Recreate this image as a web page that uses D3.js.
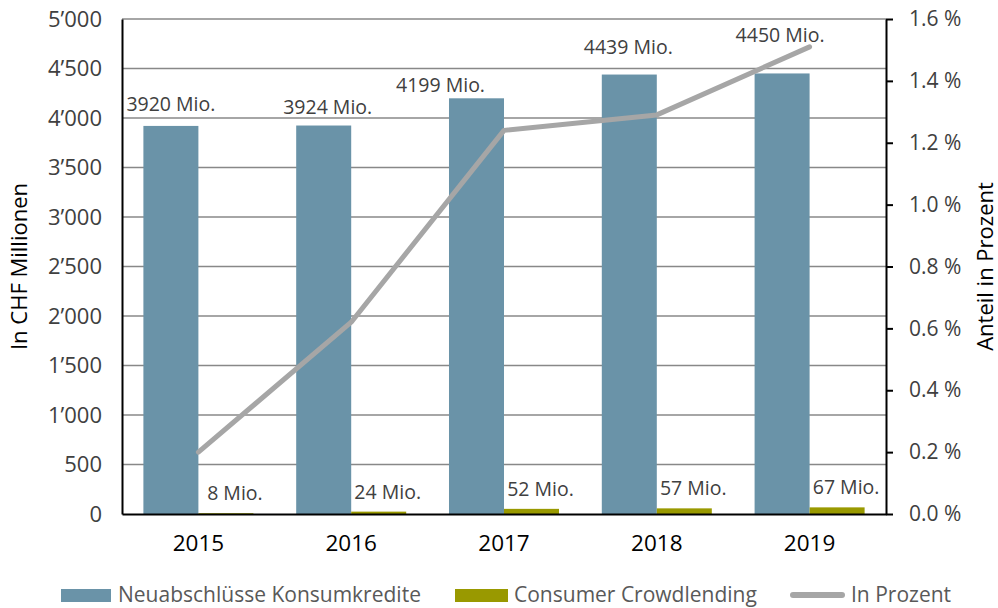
<!DOCTYPE html>
<html lang="de">
<head>
    <meta charset="UTF-8">
    <title>Konsumkredite und Crowdlending</title>
    <script src="https://d3js.org/d3.v7.min.js"></script>
    <style>
        body { margin: 0; background: #fff; }
        svg text { font-family: "Open Sans", "Noto Sans", sans-serif; }
        .tick-lbl { fill: #404040; font-size: 22px; }
        .tick-lbl.r { font-size: 21px; }
        .year-lbl { fill: #000; font-size: 22.5px; }
        .val-lbl { fill: #404040; font-size: 19.5px; }
        .axis-title { fill: #000; font-size: 22px; }
        .legend-lbl { fill: #595959; font-size: 21px; }
    </style>
</head>
<body>
<div id="chart"></div>
<script>
    // Data
    const years = ["2015", "2016", "2017", "2018", "2019"];
    const konsumkredite = [3920, 3924, 4199, 4439, 4450];   // Mio. CHF
    const crowdlending = [8, 24, 52, 57, 67];                // Mio. CHF
    const anteilProzent = [0.20, 0.62, 1.24, 1.29, 1.51];    // in %
    const leftTicks = [0, 500, 1000, 1500, 2000, 2500, 3000, 3500, 4000, 4500, 5000];
    const rightTicks = [0, 0.2, 0.4, 0.6, 0.8, 1.0, 1.2, 1.4, 1.6];
    const seriesNames = ["Neuabschlüsse Konsumkredite", "Consumer Crowdlending", "In Prozent"];

    // manual nudges of the big value labels (as placed in the original)
    const labelShift = [[0, 15], [4, 12], [-36, 6], [-1, 21], [-2, 31]];

    const width = 998, height = 608;
    const margin = { top: 19, right: 112, bottom: 94, left: 122 };
    const colBlue = "#6a93a8", colOlive = "#999900", colLine = "#a6a6a6";

    const svg = d3.select("#chart").append("svg")
        .attr("width", width)
        .attr("height", height);

    const x = d3.scaleBand()
        .domain(years)
        .range([margin.left, width - margin.right])
        .paddingInner(0.28)
        .paddingOuter(0.14);

    const x1 = d3.scaleBand()
        .domain([0, 1])
        .range([0, x.bandwidth()]);

    const y = d3.scaleLinear()
        .domain([0, 5000])
        .range([height - margin.bottom, margin.top]);

    const y2 = d3.scaleLinear()
        .domain([0, 1.6])
        .range([height - margin.bottom, margin.top]);

    const loc = d3.formatLocale({ decimal: ".", thousands: "\u2019", grouping: [3], currency: ["", ""] });
    const fmtThousands = loc.format(",");

    // gridlines
    svg.append("g")
        .selectAll("line")
        .data(leftTicks.filter(d => d > 0))
        .join("line")
        .attr("x1", margin.left)
        .attr("x2", width - margin.right)
        .attr("y1", d => y(d))
        .attr("y2", d => y(d))
        .attr("stroke", "#888")
        .attr("stroke-width", 1.6);

    // left axis
    const yAxis = svg.append("g")
        .attr("transform", `translate(${margin.left},0)`)
        .call(d3.axisLeft(y).tickValues(leftTicks).tickSize(0).tickPadding(20).tickFormat(fmtThousands));
    yAxis.select(".domain").attr("stroke", "#000").attr("stroke-width", 2);
    yAxis.selectAll("text").attr("class", "tick-lbl").attr("font-family", null).attr("font-size", null).attr("fill", null);

    // right axis
    const y2Axis = svg.append("g")
        .attr("transform", `translate(${width - margin.right},0)`)
        .call(d3.axisRight(y2).tickValues(rightTicks).tickSize(7).tickSizeOuter(0).tickPadding(16)
            .tickFormat(d => d3.format(".1f")(d) + " %"));
    y2Axis.select(".domain").attr("stroke", "#000").attr("stroke-width", 2);
    y2Axis.selectAll(".tick line").attr("stroke", "#000").attr("stroke-width", 2);
    y2Axis.selectAll("text").attr("class", "tick-lbl r").attr("font-family", null).attr("font-size", null).attr("fill", null);

    // bars
    const groups = svg.append("g")
        .selectAll("g")
        .data(years)
        .join("g")
        .attr("transform", d => `translate(${x(d)},0)`);

    groups.append("rect")
        .attr("x", x1(0))
        .attr("width", x1.bandwidth())
        .attr("y", (d, i) => y(konsumkredite[i]))
        .attr("height", (d, i) => y(0) - y(konsumkredite[i]))
        .attr("fill", colBlue);

    groups.append("rect")
        .attr("x", x1(1))
        .attr("width", x1.bandwidth())
        .attr("y", (d, i) => y(crowdlending[i]))
        .attr("height", (d, i) => y(0) - y(crowdlending[i]))
        .attr("fill", colOlive);

    // bottom axis
    const xAxis = svg.append("g")
        .attr("transform", `translate(0,${y(0)})`)
        .call(d3.axisBottom(x).tickSize(0).tickPadding(21));
    xAxis.select(".domain").attr("stroke", "#000").attr("stroke-width", 2);
    xAxis.selectAll("text").attr("class", "year-lbl").attr("font-family", null).attr("font-size", null).attr("fill", null);

    // value labels
    groups.append("text")
        .attr("class", "val-lbl")
        .attr("text-anchor", "middle")
        .attr("x", (d, i) => x1(0) + x1.bandwidth() / 2 + labelShift[i][0])
        .attr("y", (d, i) => y(konsumkredite[i]) - labelShift[i][1])
        .text((d, i) => konsumkredite[i] + " Mio.");

    groups.append("text")
        .attr("class", "val-lbl")
        .attr("text-anchor", "middle")
        .attr("x", x1(1) + x1.bandwidth() / 2 + 9)
        .attr("y", (d, i) => y(crowdlending[i]) - 13)
        .text((d, i) => crowdlending[i] + " Mio.");

    // percent line
    const line = d3.line()
        .x((d, i) => x(years[i]) + x.bandwidth() / 2)
        .y(d => y2(d));

    svg.append("path")
        .datum(anteilProzent)
        .attr("d", line)
        .attr("fill", "none")
        .attr("stroke", colLine)
        .attr("stroke-width", 5)
        .attr("stroke-linejoin", "round")
        .attr("stroke-linecap", "round");

    // axis titles
    const midY = (y(0) + y(5000)) / 2;
    svg.append("text")
        .attr("class", "axis-title")
        .attr("text-anchor", "middle")
        .attr("transform", `translate(27,${midY}) rotate(-90)`)
        .text("In CHF Millionen");

    svg.append("text")
        .attr("class", "axis-title")
        .attr("text-anchor", "middle")
        .attr("transform", `translate(993,${midY}) rotate(-90)`)
        .text("Anteil in Prozent");

    // legend
    const legend = svg.append("g").attr("transform", "translate(0,595)");
    const legendX = [61, 455, 790];

    legend.append("rect").attr("x", legendX[0]).attr("y", -6).attr("width", 50).attr("height", 13).attr("fill", colBlue);
    legend.append("rect").attr("x", legendX[1]).attr("y", -6).attr("width", 53).attr("height", 13).attr("fill", colOlive);
    legend.append("line")
        .attr("x1", legendX[2] + 3).attr("x2", legendX[2] + 52)
        .attr("y1", 0).attr("y2", 0)
        .attr("stroke", colLine).attr("stroke-width", 6).attr("stroke-linecap", "round");

    legend.selectAll("text.legend-lbl")
        .data(seriesNames)
        .join("text")
        .attr("class", "legend-lbl")
        .attr("x", (d, i) => legendX[i] + [57, 59, 61][i])
        .attr("y", 7)
        .text(d => d);
</script>
</body>
</html>
